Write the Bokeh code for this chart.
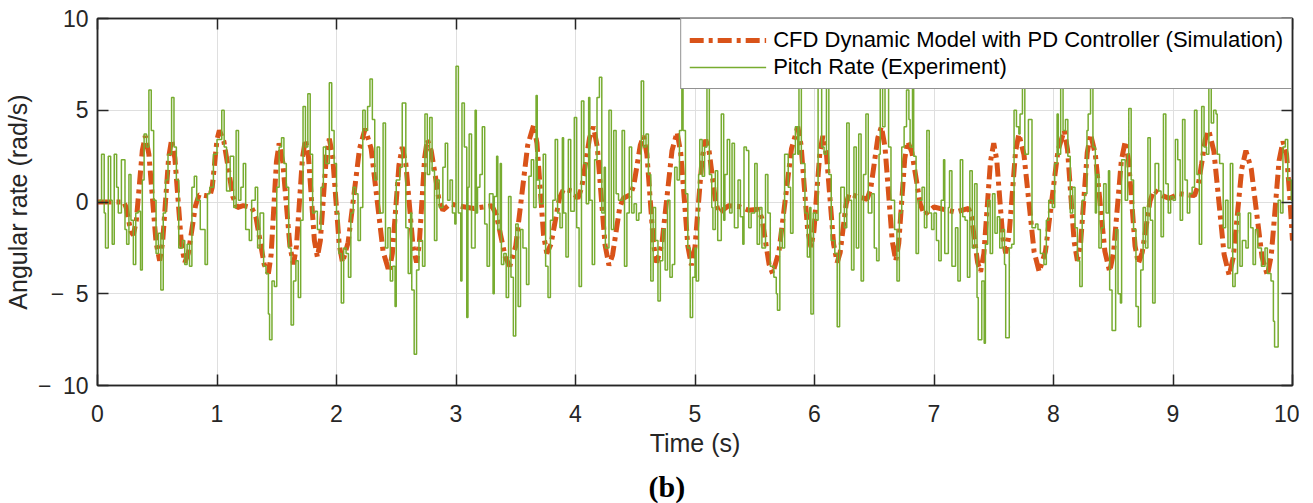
from bokeh.plotting import figure
from bokeh.models import (Range1d, LinearAxis, FixedTicker, CustomJSTickFormatter,
                          Legend, LegendItem, Title)
from bokeh.embed import file_html
from bokeh.resources import INLINE

# ---------------- data ----------------
# CFD dynamic model with PD controller (simulation)
sim_t = [0.00, 0.10, 0.22, 0.24, 0.26, 0.28, 0.30, 0.325, 0.35, 0.375, 0.40, 0.43, 0.46, 0.49, 0.52,
         0.545, 0.57, 0.595, 0.62, 0.6475, 0.675, 0.7025, 0.73, 0.76, 0.79, 0.82, 0.85, 0.90, 0.94,
         0.96, 0.98, 1.00, 1.02, 1.0575, 1.095, 1.1325, 1.17, 1.22, 1.29, 1.325, 1.36, 1.395, 1.43,
         1.4525, 1.475, 1.4975, 1.52, 1.55, 1.58, 1.61, 1.64, 1.665, 1.69, 1.715, 1.74, 1.765, 1.79,
         1.815, 1.84, 1.865, 1.89, 1.915, 1.94, 1.9675, 1.995, 2.0225, 2.05, 2.0975, 2.145, 2.1925,
         2.24, 2.29, 2.34, 2.39, 2.44, 2.4675, 2.495, 2.5225, 2.55, 2.58, 2.61, 2.64, 2.67, 2.6925,
         2.715, 2.7375, 2.76, 2.7925, 2.825, 2.8575, 2.89, 2.95, 3.05, 3.15, 3.30, 3.3375, 3.375,
         3.4125, 3.45, 3.50, 3.55, 3.60, 3.65, 3.6775, 3.705, 3.7325, 3.76, 3.795, 3.83, 3.865, 3.90,
         3.97, 4.02, 4.0525, 4.085, 4.1175, 4.15, 4.1825, 4.215, 4.2475, 4.28, 4.31, 4.34, 4.37, 4.40,
         4.46, 4.4875, 4.515, 4.5425, 4.57, 4.5975, 4.625, 4.6525, 4.68, 4.7225, 4.765, 4.8075, 4.85,
         4.88, 4.91, 4.94, 4.97, 5.00, 5.03, 5.06, 5.09, 5.1175, 5.145, 5.1725, 5.20, 5.28, 5.37,
         5.45, 5.53, 5.56, 5.59, 5.62, 5.65, 5.7025, 5.755, 5.8075, 5.86, 5.8875, 5.915, 5.9425, 5.97,
         5.995, 6.02, 6.045, 6.07, 6.10, 6.13, 6.16, 6.19, 6.215, 6.24, 6.265, 6.29, 6.36, 6.44, 6.47,
         6.50, 6.53, 6.56, 6.59, 6.62, 6.65, 6.68, 6.705, 6.73, 6.755, 6.78, 6.815, 6.85, 6.885, 6.92,
         7.00, 7.08, 7.18, 7.29, 7.315, 7.34, 7.365, 7.39, 7.4175, 7.445, 7.4725, 7.50, 7.525, 7.55,
         7.575, 7.60, 7.6275, 7.655, 7.6825, 7.71, 7.7525, 7.795, 7.8375, 7.88, 7.9325, 7.985, 8.0375,
         8.09, 8.1175, 8.145, 8.1725, 8.20, 8.2275, 8.255, 8.2825, 8.31, 8.35, 8.39, 8.43, 8.47,
         8.5025, 8.535, 8.5675, 8.60, 8.6275, 8.655, 8.6825, 8.71, 8.7425, 8.775, 8.8075, 8.84, 8.91,
         8.97, 9.05, 9.11, 9.18, 9.21, 9.24, 9.27, 9.30, 9.3425, 9.385, 9.4275, 9.47, 9.505, 9.54,
         9.575, 9.61, 9.655, 9.70, 9.745, 9.79, 9.8225, 9.855, 9.8875, 9.92, 9.95, 9.975, 10.0]
sim_y = [0.0, 0.0, 0.0, -0.3, -1.0, -1.6, -1.8, -1.0, 0.9, 2.8, 3.6, 2.6, 0.2, -2.2, -3.2,
         -2.2, 0.1, 2.4, 3.4, 2.4, 0.05, -2.3, -3.3, -2.8, -1.5, -0.2, 0.4, 0.35, 0.3,
         0.8, 2.1, 3.4, 3.9, 3.3, 1.8, 0.3, -0.3, -0.2, -0.3, -0.8, -2.1, -3.4, -3.9,
         -2.9, -0.35, 2.2, 3.2, 2.2, -0.1, -2.4, -3.4, -2.4, 0.0, 2.4, 3.4, 2.5, 0.2,
         -2.1, -3.0, -2.1, 0.2, 2.5, 3.45, 2.5, 0.1, -2.3, -3.3, -2.2, 0.35, 2.9,
         4.0, 2.9, 0.1, -2.7, -3.8, -2.8, -0.4, 2.0, 3.0, 2.1, -0.15, -2.4, -3.3, -2.3,
         0.05, 2.4, 3.4, 2.8, 1.5, 0.1, -0.45, -0.1, -0.25, -0.35, -0.2, -0.7, -1.85,
         -3.0, -3.5, -2.4, 0.35, 3.1, 4.2, 3.2, 0.7, -1.8, -2.8, -2.3, -1.05, 0.2, 0.7,
         0.6, 0.2, 0.8, 2.15, 3.5, 4.1, 3.0, 0.3, -2.35, -3.45, -2.9, -1.6, -0.3, 0.2,
         0.4, 0.9, 2.0, 3.1, 3.6, 2.6, 0.15, -2.3, -3.3, -2.3, 0.25, 2.8, 3.8,
         2.7, 0.2, -2.4, -3.45, -2.45, 0.0, 2.4, 3.4, 2.8, 1.4, 0.0, -0.6, -0.2, -0.25,
         -0.45, -0.4, -0.9, -2.15, -3.4, -3.9, -2.7, 0.1, 2.9, 4.1, 3.1, 0.8, -1.5, -2.45,
         -1.6, 0.6, 2.7, 3.6, 2.6, 0.15, -2.3, -3.3, -2.75, -1.4, -0.1, 0.45, 0.3, 0.15, 0.7,
         2.1, 3.5, 4.1, 3.0, 0.45, -2.1, -3.2, -2.25, 0.05, 2.35, 3.3, 2.7, 1.3, -0.1, -0.7,
         -0.27, -0.4, -0.55, -0.35, -0.85, -2.1, -3.3, -3.8, -2.8, -0.3, 2.2, 3.2, 2.3, 0.2,
         -1.9, -2.8, -1.85, 0.45, 2.75, 3.7, 2.6, -0.05, -2.7, -3.8, -2.7, 0.05, 2.8,
         3.9, 2.85, 0.35, -2.15, -3.2, -2.2, 0.25, 2.7, 3.7, 2.6, -0.05, -2.7, -3.8,
         -2.75, -0.25, 2.25, 3.3, 2.3, 0.0, -2.4, -3.35, -2.75, -1.35, 0.05, 0.65, 0.35,
         0.2, 0.45, 0.4, 0.35, 0.9, 2.1, 3.4, 3.9, 2.75, -0.05, -2.85, -4.0, -3.0, -0.6,
         1.8, 2.8, 1.8, -0.6, -3.0, -4.0, -2.9, -0.35, 2.25, 3.3, 2.6, 0.5, -2.1]

# Pitch rate (experiment)
exp_t = [0.00, 0.02, 0.034, 0.056, 0.067, 0.09, 0.11, 0.123, 0.14, 0.16, 0.174, 0.20, 0.23, 0.244,
         0.263, 0.28, 0.30, 0.32, 0.34, 0.36, 0.375, 0.39, 0.41, 0.43, 0.45, 0.47, 0.49, 0.51, 0.53,
         0.55, 0.57, 0.59, 0.62, 0.64, 0.66, 0.68, 0.71, 0.73, 0.75, 0.77, 0.79, 0.81, 0.83, 0.86,
         0.90, 0.92, 0.94, 0.97, 1.00, 1.04, 1.06, 1.08, 1.11, 1.14, 1.16, 1.18, 1.20, 1.22, 1.24,
         1.27, 1.29, 1.32, 1.34, 1.36, 1.39, 1.41, 1.43, 1.44, 1.46, 1.48, 1.50, 1.52, 1.54, 1.56,
         1.58, 1.60, 1.62,
         1.64, 1.66, 1.68, 1.70, 1.72, 1.74, 1.76, 1.78, 1.80, 1.82, 1.84, 1.87, 1.89, 1.91, 1.94,
         1.96, 1.98, 2.00, 2.02, 2.04, 2.06, 2.08, 2.10, 2.12, 2.14, 2.16, 2.18, 2.20, 2.22, 2.24,
         2.26, 2.28, 2.30, 2.32, 2.34, 2.36, 2.39, 2.41, 2.43, 2.45, 2.47, 2.49, 2.50, 2.53, 2.55,
         2.58, 2.60, 2.62, 2.63, 2.65, 2.67, 2.69, 2.72, 2.74, 2.76, 2.78, 2.80, 2.82, 2.84, 2.86,
         2.89, 2.91, 2.93, 2.95, 2.97, 2.99, 3.00, 3.02, 3.04, 3.05, 3.07, 3.09, 3.10, 3.11, 3.13,
         3.16, 3.17, 3.18, 3.20, 3.22, 3.24, 3.26, 3.28,
         3.31, 3.32, 3.34, 3.35, 3.37, 3.38, 3.40, 3.42, 3.44, 3.46, 3.48, 3.50, 3.52, 3.54, 3.56,
         3.59, 3.61, 3.63, 3.65, 3.67, 3.68, 3.70, 3.73, 3.75, 3.77, 3.79, 3.81, 3.83, 3.85, 3.87,
         3.89, 3.90, 3.92, 3.94, 3.96, 3.99, 4.01, 4.03, 4.05, 4.07, 4.09, 4.11, 4.12, 4.14, 4.16,
         4.18, 4.20, 4.22, 4.24, 4.25, 4.28, 4.30, 4.32, 4.34, 4.36, 4.39, 4.41, 4.43, 4.45, 4.47,
         4.49, 4.51, 4.53, 4.55, 4.57, 4.59, 4.61, 4.63, 4.65, 4.67, 4.69, 4.71, 4.73, 4.75, 4.77,
         4.79, 4.81, 4.83, 4.85, 4.87, 4.89, 4.90, 4.92, 4.94, 4.96, 4.98,
         5.00, 5.01, 5.03, 5.04, 5.06, 5.08, 5.10, 5.12, 5.14, 5.15, 5.17, 5.19, 5.22, 5.24, 5.25,
         5.27, 5.29, 5.31, 5.33, 5.36, 5.38, 5.40, 5.41, 5.43, 5.45, 5.47, 5.50, 5.52, 5.54, 5.56,
         5.59, 5.61, 5.63, 5.66, 5.68, 5.69, 5.71, 5.73, 5.75, 5.78, 5.80, 5.82, 5.84, 5.86, 5.87,
         5.89, 5.92, 5.94, 5.96, 5.97, 5.99, 6.01, 6.03, 6.06, 6.08, 6.10, 6.12, 6.14, 6.17, 6.19,
         6.21, 6.22, 6.25, 6.27, 6.29, 6.31, 6.33, 6.35, 6.37, 6.39, 6.41, 6.43, 6.45, 6.48, 6.50,
         6.52, 6.54, 6.55, 6.57, 6.59, 6.62, 6.64, 6.67, 6.69,
         6.71, 6.73, 6.75, 6.77, 6.79, 6.80, 6.82, 6.83, 6.85, 6.87, 6.90, 6.92, 6.94, 6.96, 6.98,
         7.00, 7.02, 7.04, 7.06, 7.08, 7.09, 7.12, 7.13, 7.15, 7.18, 7.20, 7.22, 7.24, 7.26, 7.28,
         7.30, 7.32, 7.34, 7.36, 7.37, 7.40, 7.42, 7.43, 7.45, 7.47, 7.49, 7.51, 7.53, 7.55, 7.57,
         7.59, 7.60, 7.63, 7.65, 7.67, 7.69, 7.71, 7.72, 7.74, 7.76, 7.78, 7.79, 7.82, 7.85, 7.87,
         7.89, 7.92, 7.94, 7.96, 7.99, 8.01, 8.03, 8.04, 8.06, 8.08, 8.10, 8.12, 8.14, 8.16, 8.18,
         8.20, 8.22, 8.24, 8.26, 8.28, 8.29, 8.31, 8.33,
         8.35, 8.36, 8.38, 8.40, 8.42, 8.44, 8.46, 8.47, 8.49, 8.52, 8.54, 8.56, 8.57, 8.60, 8.62,
         8.63, 8.65, 8.67, 8.69, 8.71, 8.73, 8.75, 8.77, 8.79, 8.81, 8.83, 8.85, 8.88, 8.90, 8.92,
         8.94, 8.96, 8.98, 9.00, 9.02, 9.04, 9.06, 9.08, 9.10, 9.12, 9.14, 9.16, 9.18, 9.20, 9.22,
         9.24, 9.26, 9.28, 9.30, 9.32, 9.34, 9.36, 9.37, 9.39, 9.42, 9.44, 9.46, 9.48, 9.50, 9.52,
         9.54, 9.56, 9.58, 9.61, 9.63, 9.65, 9.67, 9.69, 9.71, 9.74, 9.77, 9.79, 9.82, 9.84, 9.85,
         9.88, 9.90, 9.92, 9.94, 9.96, 9.99, 10.0]
exp_y = [0.0, 0.1, 2.6, -0.6, -2.5, 2.5, 0.1, -2.3, 2.6, 0.8, -0.6, 2.3, -1.5, -2.3,
         1.5, -1.0, -3.4, -0.6, -0.5, -3.7, 1.2, 3.7, 3.0, 6.1, 3.9, 0.1, -2.8, -1.7, -4.8,
         -0.6, 1.2, 2.6, 5.7, 3.0, 1.2, -2.5, -2.1, -3.4, -2.3, -3.5, 0.8, 1.4, 0.1, -1.5,
         -3.4, 0.45, 0.8, 2.6, 3.4, 5.0, 3.0, 0.6, 2.5, -0.3, 3.9, 0.1, 0.8, 2.1, -1.5,
         -2.1, 0.1, 0.8, -2.5, -0.6, -3.5, -3.9, -6.1, -7.5, -4.3, -4.6, 0.8, 3.0, 3.5, 2.1,
         0.8, -2.5, -6.7,
         -4.3, -3.2, -5.2, -1.0, 5.2, 3.0, 5.9, 2.6, -0.6, -0.5, -1.5, 0.8, 3.0, 2.1, 6.5,
         3.9, 2.1, -0.6, -2.8, -5.5, -2.5, -2.8, -4.1, -0.6, 0.8, 0.45, -2.1, -0.3, 5.0, 3.9,
         5.2, 6.7, 4.5, 1.2, 3.0, -0.6, 4.3, -2.5, -1.4, -4.3, -3.5, -5.7, 1.2, 1.9, 5.4,
         -1.4, -3.9, -0.6, -4.8, -8.3, -3.7, -2.1, -3.5, 4.8, 1.5, 4.6, 1.7, -2.1, 1.2, -0.3,
         1.9, 3.2, 0.1, 1.2, -0.6, -1.2, 7.4, -0.6, -4.3, 5.4, 3.0, -6.3, 0.8, 3.7, -2.5,
         5.0, -0.6, 0.8, 1.5, 4.1, -1.2, -3.5, 0.45,
         -5.0, 0.3, 2.5, -1.5, 2.1, -3.4, -2.8, -5.2, 0.3, -4.1, -7.3, -1.2, -5.7, -1.5, -2.5,
         -4.5, 1.4, 2.3, -0.3, 5.8, 1.2, -0.1, 2.6, -3.5, -5.2, -1.0, 0.1, 3.4, -0.6, -1.4,
         3.5, -0.6, -3.0, 3.4, -0.5, 4.6, -1.4, -4.6, 5.5, 2.1, -0.1, 5.7, 0.1, -3.4, 2.3,
         5.7, 6.8, -0.6, 1.9, -2.5, 5.0, -1.5, 3.9, 0.45, 0.1, 3.9, -3.5, -0.6, 3.0, -0.6,
         -0.1, -1.0, -0.6, 6.6, 3.0, 3.7, 1.5, -4.3, -0.3, -2.1, -5.4, -3.2, -1.5, -3.7, 0.1,
         -4.1, -3.4, 1.9, 1.2, 3.9, 7.6, 3.9, 0.45, -2.5, -6.3, -4.1,
         -2.5, -4.3, 1.5, 3.4, 1.4, 3.0, 7.4, 1.5, -0.3, -1.5, 1.7, -2.1, 4.8, -1.0, 1.5,
         3.4, -0.6, 3.2, -1.4, 1.2, -0.8, -2.3, 3.0, 2.8, -1.4, -0.6, 2.1, -2.3, -0.3, -2.5,
         1.5, -0.6, -3.5, -4.1, -5.0, -5.9, -1.5, -2.5, 2.6, 0.8, -1.7, 2.6, 4.1, 2.6, 7.0,
         2.1, -0.6, -3.0, -0.3, -6.1, -0.6, -1.0, 7.0, 3.0, 2.6, 7.0, 1.5, -2.1, -2.8, -6.8,
         -0.6, 0.8, -1.4, 4.3, 0.1, -3.7, 3.0, -2.5, 3.7, -4.3, 1.5, 4.8, -0.6, 0.45, -2.5,
         -3.2, 2.6, 7.0, 4.1, 7.0, 3.0, 0.1, -1.5, -4.3,
         -0.6, 3.0, 4.1, 6.1, 4.5, 3.0, 6.3, 2.5, -2.8, 0.1, 0.8, -1.4, 3.9, -0.6, -1.5,
         -0.6, -2.1, -3.2, 0.1, 2.3, -2.8, -0.3, 1.7, -3.5, -1.4, -4.3, 2.3, -0.8, -1.0, -4.1,
         1.7, -2.5, 1.0, -5.2, -7.5, -4.3, -7.7, -2.3, 0.1, -2.8, 0.45, -1.7, -0.8, -2.5, -1.5,
         -3.4, -7.4, -2.5, -2.3, 5.0, 4.1, 3.7, 4.8, 7.0, 2.6, 2.6, 4.5, -1.4, -1.2, -1.5,
         -2.8, -3.4, -1.0, 0.1, -0.3, 2.1, 4.8, 2.6, 6.3, 3.9, 4.5, 2.5, -0.6, 0.8, -1.4,
         -3.2, -4.6, 0.1, 0.45, 3.9, 4.8, 7.0, 3.0,
         -0.6, 1.5, -2.5, -1.4, 1.0, -0.6, 1.7, -4.8, -7.0, -1.5, -5.0, -5.5, 2.3, 0.1, 2.6,
         5.1, 1.2, -1.5, -5.7, -6.8, -3.7, -0.3, -2.5, 3.5, -1.0, -5.5, 2.1, 0.6, -1.9, 4.8,
         1.0, -0.6, 0.3, 0.1, 3.4, 2.3, -1.0, 4.5, 1.2, -0.6, 0.45, 0.8, 5.0, 1.5, -2.3,
         5.2, 3.0, 2.6, 6.3, 4.3, 5.0, 4.8, 2.6, 2.1, -1.4, 0.1, -2.5, 2.1, -4.6, -3.9,
         -0.6, -3.5, -2.1, -2.5, -0.6, -1.4, -3.4, -1.5, -2.5, -3.5, -2.5, -3.9, -4.3, -6.5, -7.9,
         0.1, -0.6, 3.0, 3.4, 1.2, 0.1, 0.1]

x_ticks = [0, 1, 2, 3, 4, 5, 6, 7, 8, 9, 10]
y_ticks = [-10, -5, 0, 5, 10]

sim_label = "CFD Dynamic Model with PD Controller (Simulation)"
exp_label = "Pitch Rate (Experiment)"
x_title = "Time (s)"
y_title = "Angular rate (rad/s)"
caption = "(b)"

# ---------------- styling ----------------
FONT = "Liberation Sans"
DARK = "#262626"
ORANGE = "#D95319"
GREEN = "#77AC30"

p = figure(frame_width=1195, frame_height=367,
           min_border_left=95, min_border_right=7, min_border_top=18, min_border_bottom=100,
           x_range=Range1d(0, 10), y_range=Range1d(-10, 10),
           output_backend="svg", toolbar_location=None,
           background_fill_color="white", border_fill_color="white")

p.outline_line_color = DARK
p.outline_line_width = 1.5

fmt = CustomJSTickFormatter(
    code="return tick < 0 ? '\u2212\u2002' + Math.abs(tick) : tick.toString();")

for ax in (p.xaxis[0], p.yaxis[0]):
    ax.axis_line_color = DARK
    ax.axis_line_width = 1.5
    ax.major_tick_line_color = DARK
    ax.major_tick_line_width = 1.5
    ax.major_tick_in = 11
    ax.major_tick_out = 0
    ax.minor_tick_line_color = None
    ax.major_label_text_font = FONT
    ax.major_label_text_font_size = "23px"
    ax.major_label_text_color = DARK
    ax.axis_label_text_font = FONT
    ax.axis_label_text_font_size = "25px"
    ax.axis_label_text_font_style = "normal"
    ax.axis_label_text_color = DARK
    ax.formatter = fmt

p.xaxis[0].ticker = FixedTicker(ticks=x_ticks)
p.yaxis[0].ticker = FixedTicker(ticks=y_ticks)
p.xaxis[0].axis_label = x_title
p.yaxis[0].axis_label = y_title
p.xaxis[0].major_label_standoff = 19
p.yaxis[0].major_label_standoff = 9
p.xaxis[0].axis_label_standoff = 4
p.yaxis[0].axis_label_standoff = 3

# box axes (top / right) with inward ticks, labels not drawn
for side, ticks in (("above", x_ticks), ("right", y_ticks)):
    ax = LinearAxis(ticker=FixedTicker(ticks=ticks))
    ax.axis_line_color = DARK
    ax.axis_line_width = 1.5
    ax.major_tick_line_color = DARK
    ax.major_tick_line_width = 1.5
    ax.major_tick_in = 11
    ax.major_tick_out = 0
    ax.minor_tick_line_color = None
    ax.major_label_text_color = None
    ax.major_label_text_font_size = "1px"
    ax.major_label_standoff = 0
    p.add_layout(ax, side)

p.xgrid.ticker = FixedTicker(ticks=x_ticks)
p.ygrid.ticker = FixedTicker(ticks=y_ticks)
p.xgrid.grid_line_color = "#dfdfdf"
p.ygrid.grid_line_color = "#dfdfdf"
p.xgrid.grid_line_width = 1
p.ygrid.grid_line_width = 1

r_sim = p.line(sim_t, sim_y, line_color=ORANGE, line_width=5, line_dash="14 5 4 5")
r_exp = p.step(exp_t, exp_y, mode="after", line_color=GREEN, line_width=1.5)

legend = Legend(items=[LegendItem(label=sim_label, renderers=[r_sim]),
                       LegendItem(label=exp_label, renderers=[r_exp])],
                location="top_right", margin=0, padding=8, spacing=1,
                glyph_width=77, glyph_height=24, label_height=24, label_standoff=7,
                label_text_font=FONT, label_text_font_size="22px", label_text_color="black",
                border_line_color=DARK, border_line_width=1.5,
                background_fill_color="white", background_fill_alpha=1.0)
p.add_layout(legend)

p.add_layout(Title(text=caption, align="left", offset=551, standoff=16,
                   text_font="Liberation Serif", text_font_size="30px",
                   text_font_style="bold", text_color="black"), "below")

open("out.html", "w").write(file_html(p, INLINE))
